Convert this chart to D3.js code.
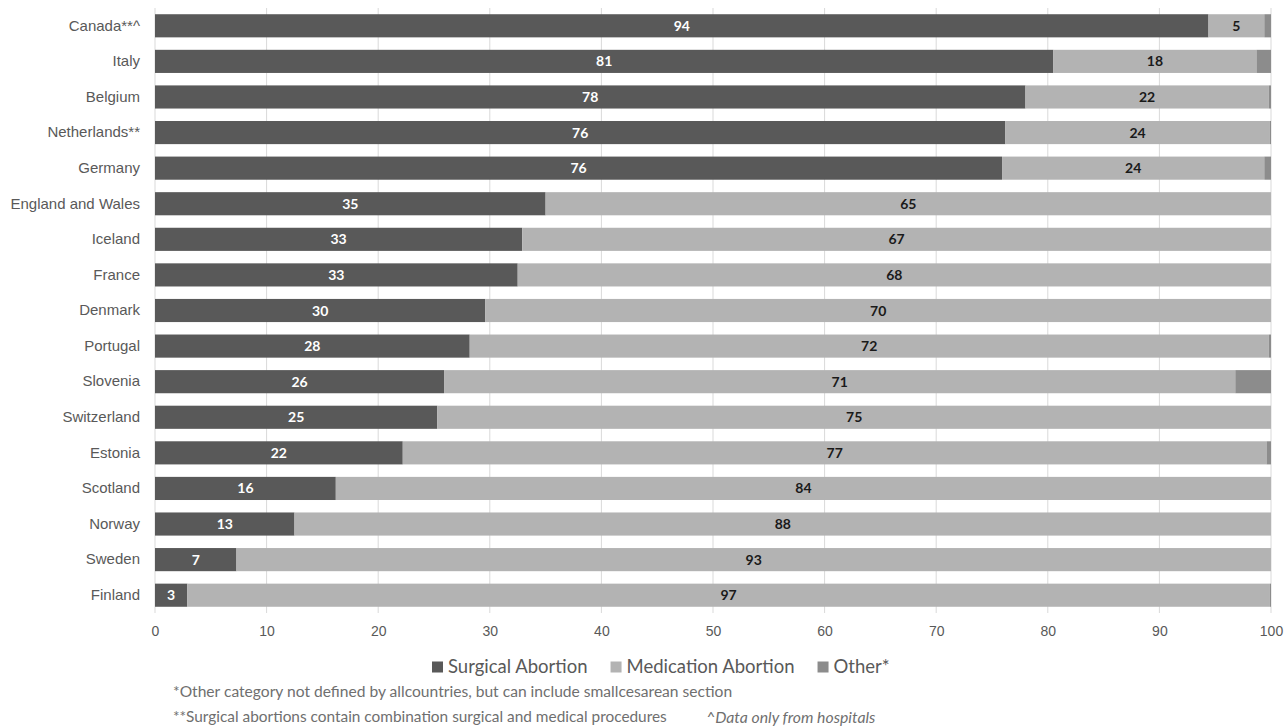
<!DOCTYPE html>
<html>
<head>
<meta charset="utf-8">
<script src="https://cdn.jsdelivr.net/npm/d3@7"></script>
<style>
  body { margin: 0; background: #fff; font-family: Lato, "Open Sans", sans-serif; }
  .tick text { fill: #595959; }
</style>
</head>
<body>
<div id="chart"></div>
<script>
// Data (percent of abortions by method)
const countries = ["Canada**^", "Italy", "Belgium", "Netherlands**", "Germany", "England and Wales",
  "Iceland", "France", "Denmark", "Portugal", "Slovenia", "Switzerland", "Estonia", "Scotland",
  "Norway", "Sweden", "Finland"];
const surgical = [94.4, 80.5, 78.0, 76.2, 75.9, 35.0, 32.9, 32.5, 29.6, 28.2, 25.9, 25.3, 22.2, 16.2, 12.5, 7.3, 2.9];
const medication = [5.0, 18.2, 21.8, 23.7, 23.5, 65.0, 67.1, 67.5, 70.4, 71.6, 70.9, 74.7, 77.4, 83.8, 87.5, 92.7, 97.0];
const other = [0.6, 1.3, 0.2, 0.1, 0.6, 0, 0, 0, 0, 0.2, 3.2, 0, 0.4, 0, 0, 0, 0.1];
const seriesNames = ["Surgical Abortion", "Medication Abortion", "Other*"];
const xTicks = [0, 10, 20, 30, 40, 50, 60, 70, 80, 90, 100];
const notes = [
  "*Other category not defined by allcountries, but can include smallcesarean section",
  "**Surgical abortions contain combination surgical and medical procedures",
  "^Data only from hospitals"
];

const colors = ["#595959", "#b3b3b3", "#8c8c8c"];
const labelColors = ["#ffffff", "#1a1a1a", null];

const W = 1285, H = 727;
const margin = { top: 8, right: 14, bottom: 114, left: 155 };
const width = W - margin.left - margin.right;
const height = H - margin.top - margin.bottom;

const svg = d3.select("#chart").append("svg").attr("width", W).attr("height", H);
const g = svg.append("g").attr("transform", `translate(${margin.left},${margin.top})`);

const x = d3.scaleLinear().domain([0, 100]).range([0, width]);
const y = d3.scaleBand().domain(countries).range([0, height]).paddingInner(0.35).paddingOuter(0.175);

// gridlines
g.append("g")
  .selectAll("line")
  .data(xTicks)
  .join("line")
  .attr("x1", d => x(d)).attr("x2", d => x(d))
  .attr("y1", 0).attr("y2", height)
  .attr("stroke", "#d9d9d9").attr("stroke-width", 1);

// stack data
const rows = countries.map((c, i) => ({ country: c, s0: surgical[i], s1: medication[i], s2: other[i] }));
const stack = d3.stack().keys(["s0", "s1", "s2"])(rows);

stack.forEach((layer, k) => {
  const lg = g.append("g");
  lg.selectAll("rect")
    .data(layer)
    .join("rect")
    .attr("x", d => x(d[0]))
    .attr("y", d => y(d.data.country))
    .attr("width", d => Math.max(0, x(d[1]) - x(d[0])))
    .attr("height", y.bandwidth())
    .attr("fill", colors[k]);

  if (labelColors[k]) {
    lg.selectAll("text")
      .data(layer)
      .join("text")
      .attr("x", d => (x(d[0]) + x(d[1])) / 2)
      .attr("y", d => y(d.data.country) + y.bandwidth() / 2)
      .attr("dy", "0.36em")
      .attr("text-anchor", "middle")
      .style("font-size", "14px")
      .style("font-weight", "bold")
      .style("fill", labelColors[k])
      .text(d => Math.round(d[1] - d[0]));
  }
});

// axes
const yAxis = g.append("g").call(d3.axisLeft(y).tickSize(0).tickPadding(15));
yAxis.select(".domain").remove();
yAxis.selectAll("text").style("font-size", "15px");

const xAxis = g.append("g")
  .attr("transform", `translate(0,${height})`)
  .call(d3.axisBottom(x).tickValues(xTicks).tickSize(0).tickPadding(13));
xAxis.select(".domain").remove();
xAxis.selectAll("text").style("font-size", "14px");

// legend: square + label, laid out left to right
const legend = svg.append("g").attr("transform", "translate(432,667)");
let lx = 0;
seriesNames.forEach((name, i) => {
  legend.append("rect").attr("x", lx).attr("y", -5.5).attr("width", 11).attr("height", 11).attr("fill", colors[i]);
  const t = legend.append("text").attr("x", lx + 16).attr("y", 0).attr("dy", "0.35em")
    .style("font-size", "18.5px").style("fill", "#595959").text(name);
  lx += 16 + t.node().getComputedTextLength() + 23;
});

// footnotes
svg.append("text").attr("x", 173).attr("y", 692).attr("dy", "0.35em")
  .style("font-size", "15.6px").style("fill", "#6f6f6f")
  .text(notes[0]);
svg.append("text").attr("x", 173).attr("y", 717).attr("dy", "0.35em")
  .style("font-size", "15.4px").style("fill", "#6f6f6f")
  .text(notes[1]);
svg.append("text").attr("x", 706).attr("y", 717).attr("dy", "0.35em")
  .style("font-size", "15.8px").style("font-style", "italic").style("fill", "#6f6f6f")
  .text(notes[2]);
</script>
</body>
</html>
